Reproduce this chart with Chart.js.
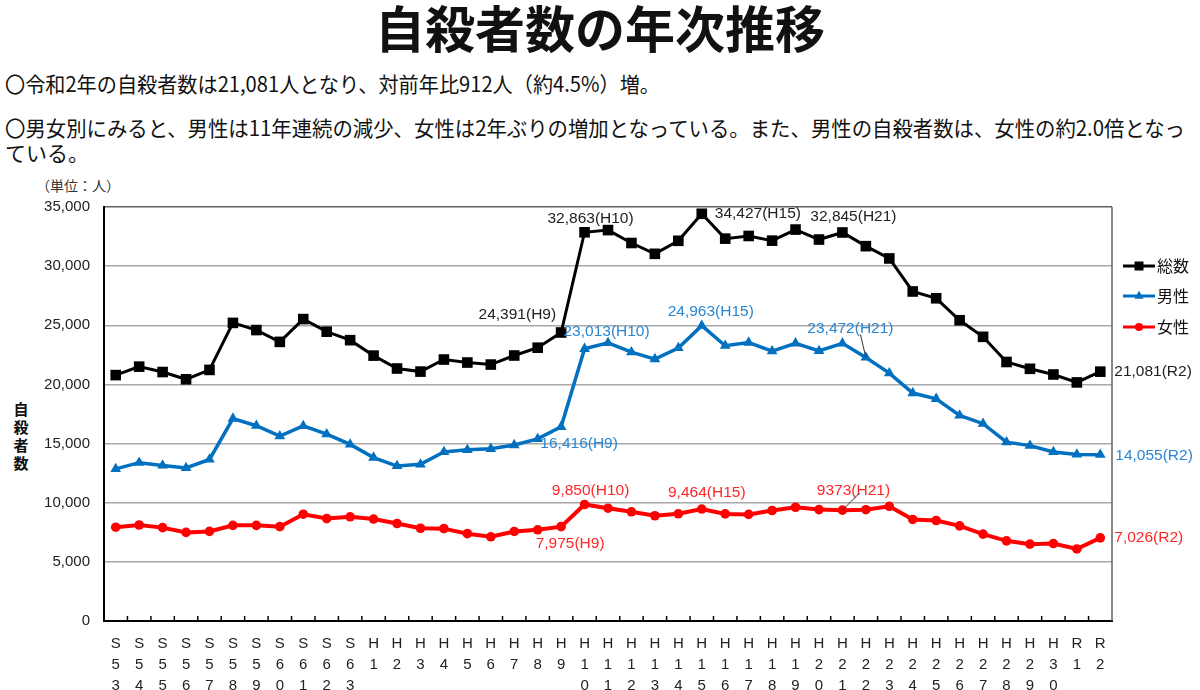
<!DOCTYPE html>
<html lang="ja">
<head>
<meta charset="utf-8">
<script src="https://cdn.jsdelivr.net/npm/chart.js@4.4.1/dist/chart.umd.min.js"></script>
<style>
    html, body { margin: 0; padding: 0; background: #fff; }
    body { width: 1200px; height: 690px; position: relative; overflow: hidden; font-family: "Noto Sans CJK JP", sans-serif; color: #111; }
    #title { position: absolute; left: 0; top: -10px; width: 1200px; text-align: center; font-size: 50px; font-weight: 700; line-height: 72px; letter-spacing: 0; }
    .line { position: absolute; left: 5px; font-size: 21px; line-height: 28px; white-space: nowrap; transform-origin: 0 50%; }
    #unit { position: absolute; left: 36px; top: 175px; font-size: 14px; line-height: 20px; color: #333; }
    #ytitle { position: absolute; left: 12px; top: 400px; width: 18px; font-size: 15px; font-weight: 700; line-height: 18px; text-align: center; }
    #wrap { position: absolute; left: 0; top: 0; width: 1200px; height: 690px; }
</style>
</head>
<body>
<div id="title">自殺者数の年次推移</div>
<div class="line" id="l1" style="top:69px">〇令和2年の自殺者数は21,081人となり、対前年比912人（約4.5%）増。</div>
<div class="line" id="l2" style="top:113px">〇男女別にみると、男性は11年連続の減少、女性は2年ぶりの増加となっている。また、男性の自殺者数は、女性の約2.0倍となっ</div>
<div class="line" id="l3" style="top:138px">ている。</div>
<div id="unit">（単位：人）</div>
<div id="ytitle">自<br>殺<br>者<br>数</div>
<div id="wrap"><canvas id="suicideChart"></canvas></div>

<script>
// ===== data =====
const years = [
    "S53", "S54", "S55", "S56", "S57", "S58", "S59", "S60", "S61", "S62", "S63",
    "H1", "H2", "H3", "H4", "H5", "H6", "H7", "H8", "H9", "H10",
    "H11", "H12", "H13", "H14", "H15", "H16", "H17", "H18", "H19", "H20",
    "H21", "H22", "H23", "H24", "H25", "H26", "H27", "H28", "H29", "H30",
    "R1", "R2"
];
const totalCounts = [
    20788, 21503, 21048, 20434, 21228, 25202, 24596, 23599, 25524, 24460, 23742,
    22436, 21346, 21084, 22104, 21851, 21679, 22445, 23104, 24391, 32863,
    33048, 31957, 31042, 32143, 34427, 32325, 32552, 32155, 33093, 32249,
    32845, 31690, 30651, 27858, 27283, 25427, 24025, 21897, 21321, 20840,
    20169, 21081
];
const maleCounts = [
    12859, 13386, 13155, 12942, 13654, 17116, 16508, 15624, 16497, 15802, 14934,
    13818, 13102, 13242, 14296, 14468, 14560, 14874, 15393, 16416, 23013,
    23512, 22727, 22144, 23080, 24963, 23272, 23540, 22813, 23478, 22831,
    23472, 22283, 20955, 19273, 18787, 17386, 16681, 15121, 14826, 14290,
    14078, 14055
];
const femaleCounts = [
    7929, 8117, 7893, 7492, 7574, 8086, 8088, 7975, 9027, 8658, 8808,
    8618, 8244, 7842, 7808, 7383, 7119, 7571, 7711, 7975, 9850,
    9536, 9230, 8898, 9063, 9464, 9053, 9012, 9342, 9615, 9418,
    9373, 9407, 9696, 8585, 8496, 8041, 7344, 6776, 6495, 6550,
    6091, 7026
];
const seriesNames = ["総数", "男性", "女性"];
const yTicks = [0, 5000, 10000, 15000, 20000, 25000, 30000, 35000];

// callouts: [series, year, text]
const callouts = [
    [0, "H9", "24,391(H9)"], [0, "H10", "32,863(H10)"], [0, "H15", "34,427(H15)"],
    [0, "H21", "32,845(H21)"], [0, "R2", "21,081(R2)"],
    [1, "H9", "16,416(H9)"], [1, "H10", "23,013(H10)"], [1, "H15", "24,963(H15)"],
    [1, "H21", "23,472(H21)"], [1, "R2", "14,055(R2)"],
    [2, "H9", "7,975(H9)"], [2, "H10", "9,850(H10)"], [2, "H15", "9,464(H15)"],
    [2, "H21", "9373(H21)"], [2, "R2", "7,026(R2)"]
];

// ===== styling =====
const lineColors = ["#000000", "#0070C0", "#FF0000"];
const textColors = ["#222222", "#2A86D2", "#FF2626"];
const pointStyles = ["rect", "triangle", "circle"];
const pointSizes = [7.5, 6.2, 4.8];
const lineWidths = [3, 3.5, 4];

// label offsets from the point: dx, dy, align ; optional leader [targetYear, fromDx, fromDy]
const calloutPos = {
    "0H9": [-5, -18, "right"], "0H10": [6, -14, "center"], "0H15": [13, 0, "left"],
    "0H21": [11, -16, "center"], "0R2": [14, 0, "left"],
    "1H9": [18, 17, "center"], "1H10": [22, -17, "center"], "1H15": [9, -14, "center"],
    "1H21": [8, -15, "center", ["H22", 10, -4]], "1R2": [15, 1, "left"],
    "2H9": [9, 17, "center"], "2H10": [6, -14, "center"], "2H15": [5, -16, "center"],
    "2H21": [11, -19, "center", ["H21", 6, -8]], "2R2": [14, 0, "left"]
};

const fmt = v => v.toLocaleString("en-US");

// ===== plugins =====
const calloutPlugin = {
    id: "callouts",
    afterDatasetsDraw(chart) {
        const { ctx, scales: { x, y } } = chart;
        const data = [totalCounts, maleCounts, femaleCounts];
        ctx.save();
        ctx.font = "15.5px 'Liberation Sans', Arial, sans-serif";
        ctx.textBaseline = "middle";
        callouts.forEach(([s, yr, text]) => {
            const i = years.indexOf(yr);
            const px = x.getPixelForValue(i);
            const py = y.getPixelForValue(data[s][i]);
            const pos = calloutPos[s + yr];
            ctx.fillStyle = textColors[s];
            ctx.textAlign = pos[2];
            ctx.fillText(text, px + pos[0], py + pos[1]);
            if (pos[3]) {
                const [ty, fdx, fdy] = pos[3];
                const ti = years.indexOf(ty);
                ctx.strokeStyle = "#333";
                ctx.lineWidth = 1;
                ctx.beginPath();
                ctx.moveTo(px + pos[0] + fdx, py + pos[1] + fdy + 10);
                ctx.lineTo(x.getPixelForValue(ti), y.getPixelForValue(data[s][ti]));
                ctx.stroke();
            }
        });
        ctx.restore();
    }
};

const framePlugin = {
    id: "frame",
    afterDraw(chart) {
        const { ctx, chartArea: a, scales: { x } } = chart;
        ctx.save();
        // right border
        ctx.strokeStyle = "#606060";
        ctx.lineWidth = 1.5;
        ctx.beginPath();
        ctx.moveTo(a.right, a.top);
        ctx.lineTo(a.right, a.bottom);
        ctx.stroke();
        // inward tick marks on category boundaries
        ctx.strokeStyle = "#000";
        ctx.lineWidth = 1.5;
        for (let i = 1; i < years.length; i++) {
            const bx = (x.getPixelForValue(i - 1) + x.getPixelForValue(i)) / 2;
            ctx.beginPath();
            ctx.moveTo(bx, a.bottom);
            ctx.lineTo(bx, a.bottom - 5);
            ctx.stroke();
        }
        // legend
        const lx = a.right + 11, ly = [266, 296, 327];
        ctx.font = "16px 'Noto Sans CJK JP', sans-serif";
        ctx.textBaseline = "middle";
        ctx.textAlign = "left";
        chart.data.datasets.forEach((ds, k) => {
            ctx.strokeStyle = lineColors[k];
            ctx.lineWidth = 3;
            ctx.beginPath();
            ctx.moveTo(lx, ly[k]);
            ctx.lineTo(lx + 32, ly[k]);
            ctx.stroke();
            ctx.fillStyle = lineColors[k];
            Chart.helpers.drawPoint(ctx, { pointStyle: pointStyles[k], radius: pointSizes[k] * 0.85, borderWidth: 0 }, lx + 16, ly[k]);
            ctx.fillStyle = "#111";
            ctx.fillText(ds.label, lx + 34, ly[k]);
        });
        ctx.restore();
    }
};

// ===== chart =====
const makeSet = (k, values) => ({
    label: seriesNames[k],
    data: values,
    borderColor: lineColors[k],
    backgroundColor: lineColors[k],
    borderWidth: lineWidths[k],
    pointStyle: pointStyles[k],
    pointRadius: pointSizes[k],
    pointBorderWidth: 0,
    pointBackgroundColor: lineColors[k],
    tension: 0,
    clip: false
});

const canvas = document.getElementById("suicideChart");
new Chart(canvas.getContext("2d"), {
    type: "line",
    data: {
        labels: years,
        datasets: [makeSet(0, totalCounts), makeSet(1, maleCounts), makeSet(2, femaleCounts)]
    },
    options: {
        responsive: true,
        maintainAspectRatio: false,
        animation: false,
        layout: { padding: { left: 0, top: 207, right: 88, bottom: 0 } },
        plugins: { legend: { display: false }, tooltip: { enabled: false } },
        scales: {
            x: {
                offset: true,
                grid: { display: false },
                border: { display: true, color: "#000", width: 2 },
                ticks: {
                    autoSkip: false,
                    maxRotation: 0,
                    padding: 4,
                    color: "#222",
                    font: { family: "'Liberation Sans', Arial, sans-serif", size: 15, lineHeight: 1.4 },
                    callback: (v, i) => years[i].split("")
                },
                afterFit: s => { s.height = 69; }
            },
            y: {
                min: 0,
                max: 35000,
                afterBuildTicks: s => { s.ticks = yTicks.map(v => ({ value: v })); },
                grid: {
                    drawTicks: false,
                    color: c => c.tick && c.tick.value === 35000 ? "#606060" : "#a8a8a8",
                    lineWidth: 1.5
                },
                border: { display: true, color: "#000", width: 2 },
                ticks: {
                    padding: 14,
                    color: "#222",
                    font: { family: "'Liberation Sans', Arial, sans-serif", size: 15 },
                    callback: v => fmt(v)
                },
                afterFit: s => { s.width = 104; }
            }
        }
    },
    plugins: [calloutPlugin, framePlugin]
});

// squeeze the text lines to the widths they have in the slide
const fitLine = (id, w) => {
    const el = document.getElementById(id);
    const r = el.getBoundingClientRect().width;
    el.style.transform = "scaleX(" + (w / r) + ")";
};
fitLine("l1", 655);
fitLine("l2", 1180);
</script>
</body>
</html>
